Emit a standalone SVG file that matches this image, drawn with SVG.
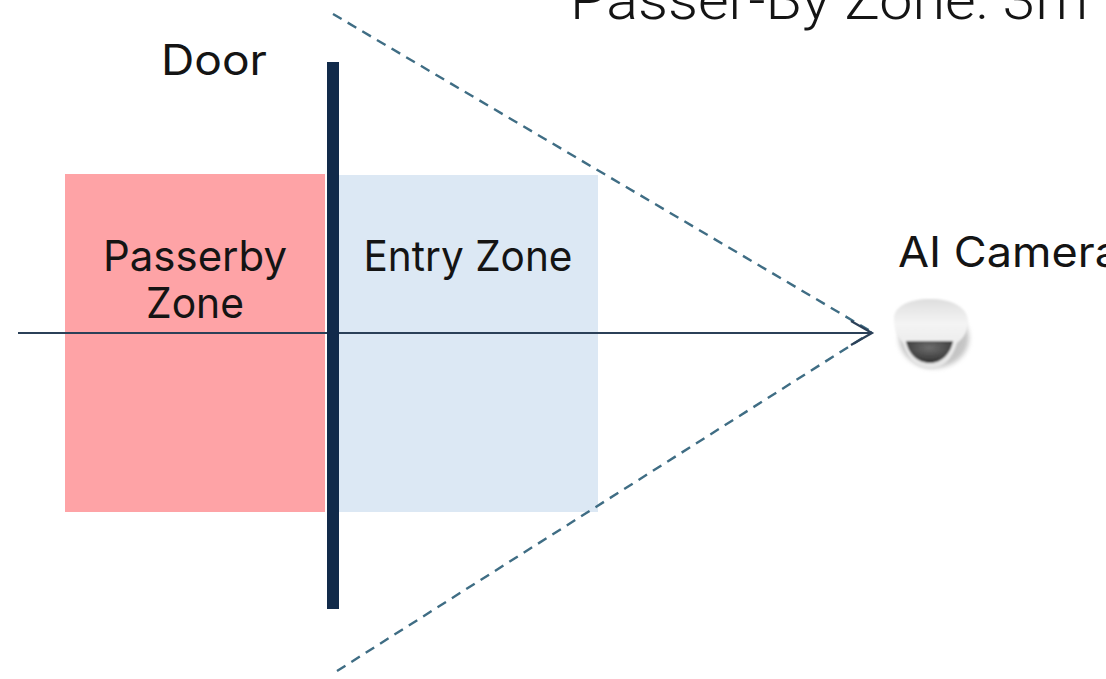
<svg xmlns="http://www.w3.org/2000/svg" width="1106" height="679" viewBox="0 0 1106 679">
  <defs>
    <linearGradient id="domeBody" x1="0" y1="0" x2="0" y2="1">
      <stop offset="0" stop-color="#dedede"/>
      <stop offset="0.35" stop-color="#f4f4f4"/>
      <stop offset="1" stop-color="#e4e4e4"/>
    </linearGradient>
    <radialGradient id="lens" cx="0.5" cy="0.3" r="0.75">
      <stop offset="0" stop-color="#6e6e6e"/>
      <stop offset="1" stop-color="#2c2c2c"/>
    </radialGradient>
    <filter id="soft" x="-20%" y="-20%" width="140%" height="140%"><feGaussianBlur stdDeviation="0.8"/></filter>
    <filter id="shadow" x="-30%" y="-30%" width="160%" height="160%"><feGaussianBlur stdDeviation="2.5"/></filter>
  </defs>
  <style>
    text { font-family: "Inter", "Liberation Sans", sans-serif; fill: #141414; font-size: 42px; font-weight: 400; text-anchor: middle; }
    .dash { fill: none; stroke: #3f6d84; stroke-width: 2.4; stroke-dasharray: 10 7; }
    .axis { fill: none; stroke: #2b4058; stroke-width: 2.2; }
  </style>
  <rect width="1106" height="679" fill="#ffffff"/>
  <g id="passerby-zone">
    <rect x="65" y="174" width="260" height="338" fill="#fea3a6"/>
    <text x="195" y="271" textLength="184" lengthAdjust="spacingAndGlyphs">Passerby</text>
    <text x="195" y="318" textLength="98" lengthAdjust="spacingAndGlyphs">Zone</text>
  </g>
  <g id="entry-zone">
    <rect x="339" y="175" width="259" height="337" fill="#dce8f4"/>
    <text x="468" y="271" textLength="209" lengthAdjust="spacingAndGlyphs">Entry Zone</text>
  </g>
  <g id="connectors">
    <path class="dash" d="M333 14L872 332"/>
    <path class="dash" d="M337 671L872 332"/>
    <path class="axis" d="M18 333H872M851 321L872 333L851 345"/>
  </g>
  <g id="door">
    <rect x="327" y="62" width="12" height="547" fill="#112a4a"/>
    <text x="214" y="75" textLength="106" lengthAdjust="spacingAndGlyphs">Door</text>
  </g>
  <g id="camera">
    <text x="898" y="267" style="text-anchor:start" textLength="222" lengthAdjust="spacingAndGlyphs">AI Camera</text>
    <ellipse cx="934" cy="338" rx="35" ry="30" fill="#8a8a8a" opacity="0.5" filter="url(#shadow)"/>
    <g filter="url(#soft)">
      <path d="M894 320C893 307 908 299 930 299C952 299 968 307 968 322C968 331 964 338 957 343C952 360 942 369 930 369C917 369 908 360 903 343C897 337 894 329 894 320Z" fill="url(#domeBody)"/>
      <path d="M906 341H953C951 354 941 363 930 363C918 363 908 354 906 341Z" fill="url(#lens)"/>
    </g>
  </g>
  <g id="title">
    <text x="570" y="19" style="text-anchor:start;font-family:'Roboto','Liberation Sans',sans-serif;font-size:56px;font-weight:300" textLength="518" lengthAdjust="spacingAndGlyphs">Passer-By Zone: 3m</text>
  </g>
</svg>
